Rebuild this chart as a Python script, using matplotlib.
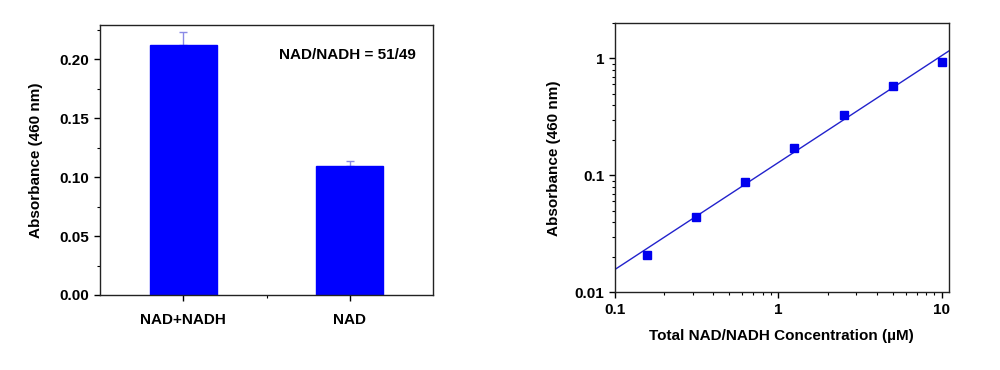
import matplotlib
matplotlib.use("Agg")
import matplotlib.pyplot as plt
import numpy as np
from matplotlib.ticker import MultipleLocator, FixedLocator, LogLocator, NullFormatter, FuncFormatter

plt.rcParams['font.family'] = ['Liberation Sans', 'DejaVu Sans']
plt.rcParams['font.weight'] = 'bold'

# Left chart data
categories = ["NAD+NADH", "NAD"]
bar_values = [0.212, 0.109]
bar_errors = [0.011, 0.005]
ratio_text = "NAD/NADH = 51/49"

# Right chart data
conc = [0.15625, 0.3125, 0.625, 1.25, 2.5, 5, 10]
absorb = [0.0210, 0.0438, 0.088, 0.173, 0.328, 0.576, 0.935]
fit_a = 0.129
fit_b = 0.915
fit_x = [0.1, 11]

FS = 11

fig = plt.figure(figsize=(10, 3.7), dpi=100)
W, H = 1000, 370
ax1 = fig.add_axes([100/W, 1-295/H, 333/W, 270/H])
ax2 = fig.add_axes([615/W, 1-292.3/H, 333.7/W, 269/H])

x = np.arange(len(categories))
ax1.bar(x, bar_values, width=0.4, color='#0000ff', edgecolor='#0000ff', zorder=2)
ax1.errorbar(x, bar_values, yerr=[np.zeros(len(bar_errors)), bar_errors], fmt='none',
             ecolor='#8a8ae6', elinewidth=1, capsize=3, capthick=1, zorder=1)
ax1.set_xlim(-0.5, 1.5)
ax1.set_ylim(0, 0.229)
ax1.set_xticks(x)
ax1.set_xticklabels(categories)
ax1.xaxis.set_minor_locator(FixedLocator([0.5]))
ax1.yaxis.set_major_locator(MultipleLocator(0.05))
ax1.yaxis.set_minor_locator(MultipleLocator(0.025))
ax1.yaxis.set_major_formatter(FuncFormatter(lambda v, p: f"{v:.2f}"))
ax1.set_ylabel("Absorbance (460 nm)", fontsize=FS, fontweight='bold', labelpad=12)
ax1.text(0.95, 0.89, ratio_text, transform=ax1.transAxes, ha='right', va='center',
         fontsize=FS, fontweight='bold')

ax2.plot(conc, absorb, 's', color='#0000ee', markersize=5.5, zorder=3)
fx = np.array(fit_x)
ax2.plot(fx, fit_a * fx ** fit_b, '-', color='#2222cc', lw=1, zorder=2)
ax2.set_xscale('log')
ax2.set_yscale('log')
ax2.set_xlim(0.1, 11)
ax2.set_ylim(0.01, 2)
ax2.set_xticks([0.1, 1, 10])
ax2.set_xticklabels(["0.1", "1", "10"])
ax2.set_yticks([0.01, 0.1, 1])
ax2.set_yticklabels(["0.01", "0.1", "1"])
ax2.xaxis.set_minor_locator(LogLocator(base=10, subs=np.arange(2, 10)))
ax2.yaxis.set_minor_locator(LogLocator(base=10, subs=np.arange(2, 10)))
ax2.xaxis.set_minor_formatter(NullFormatter())
ax2.yaxis.set_minor_formatter(NullFormatter())
ax2.set_ylabel("Absorbance (460 nm)", fontsize=FS, fontweight='bold', labelpad=10)
ax2.set_xlabel("Total NAD/NADH Concentration (µM)", fontsize=FS, fontweight='bold', labelpad=9)

for ax in (ax1, ax2):
    for s in ax.spines.values():
        s.set_linewidth(1.0)
        s.set_color('#222222')
    ax.tick_params(which='major', direction='out', length=4, width=1, labelsize=FS,
                   top=False, right=False)
    ax.tick_params(which='minor', direction='out', length=2.5, width=0.8,
                   top=False, right=False)
    for lbl in ax.get_xticklabels() + ax.get_yticklabels():
        lbl.set_fontweight('bold')
ax1.tick_params(axis='x', which='major', pad=9)

fig.savefig("out.png", dpi=100, facecolor='white')
